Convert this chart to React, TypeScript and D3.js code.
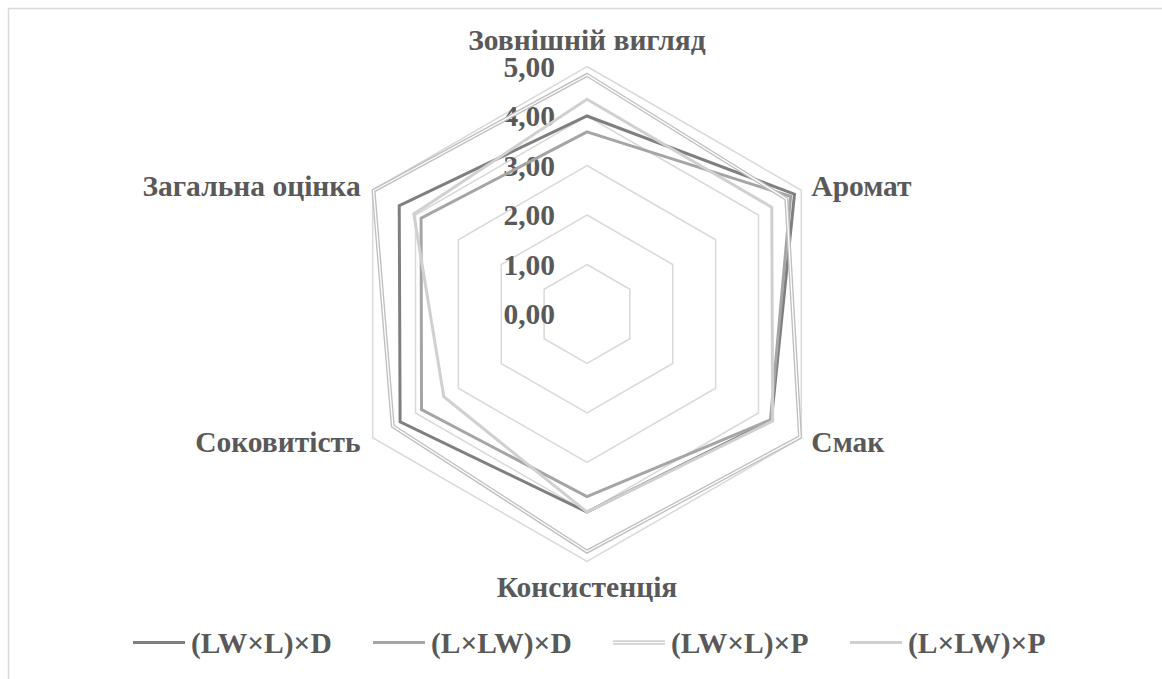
import React from "react";
import * as d3 from "d3";

const categories = ["Зовнішній вигляд", "Аромат", "Смак", "Консистенція", "Соковитість", "Загальна оцінка"];
const seriesNames = ["(LW×L)×D", "(L×LW)×D", "(LW×L)×P", "(L×LW)×P"];
const valsLWxL_D = [4.0, 4.84, 4.3, 4.0, 4.36, 4.38];
const valsLxLW_D = [3.68, 4.75, 4.28, 3.69, 3.86, 3.87];
const valsLWxL_P = [4.83, 4.65, 4.97, 4.8, 4.53, 4.98];
const valsLxLW_P = [4.34, 4.31, 4.33, 4.0, 3.34, 4.04];
const tickValues = [0, 1, 2, 3, 4, 5];
const tickLabels = ["0,00", "1,00", "2,00", "3,00", "4,00", "5,00"];

const W = 1162;
const H = 679;
const cx = 587;
const cy = 314;
const R = 247.5;
const TEXT = "#595959";
const FONT = "Liberation Serif";
const FS = 29.5;

type Style = { color: string; width: number; double?: boolean };
const styles: Style[] = [
  { color: "#7f7f7f", width: 3 },
  { color: "#a5a5a5", width: 3 },
  { color: "#bfbfbf", width: 4, double: true },
  { color: "#d0d0d0", width: 3 },
];

export default function App() {
  const r = d3.scaleLinear().domain([0, 5]).range([0, R]);
  const angle = d3
    .scalePoint<string>()
    .domain(categories)
    .range([0, 2 * Math.PI * (1 - 1 / categories.length)]);
  const pt = (cat: string, v: number): [number, number] => {
    const a = angle(cat) as number;
    return [cx + Math.sin(a) * r(v), cy - Math.cos(a) * r(v)];
  };
  const line = d3.line<[number, number]>().curve(d3.curveLinearClosed);
  const allSeries = [valsLWxL_D, valsLxLW_D, valsLWxL_P, valsLxLW_P];

  const legendX = [133, 373, 613, 850];
  const legendY = 642.5;

  return (
    <svg
      width={W}
      height={H}
      style={{ position: "absolute", left: 0, top: 0, background: "#fff" }}
    >
      <rect x={8.5} y={8.5} width={2000} height={2000} fill="#fff" stroke="#d9d9d9" strokeWidth={1.5} />
      {tickValues.slice(1).map((t) => (
        <path
          key={"g" + t}
          d={line(categories.map((c) => pt(c, t))) || ""}
          fill="none"
          stroke="#d9d9d9"
          strokeWidth={1.5}
        />
      ))}
      {tickValues.map((t, i) => (
        <text
          key={"t" + t}
          x={cx - 32}
          y={cy - r(t)}
          dy="0.34em"
          textAnchor="end"
          fontFamily={FONT}
          fontWeight="bold"
          fontSize={FS}
          fill={TEXT}
        >
          {tickLabels[i]}
        </text>
      ))}
      {allSeries.map((vals, si) => {
        const d = line(categories.map((c, i) => pt(c, vals[i]))) || "";
        const s = styles[si];
        return (
          <g key={"s" + si}>
            <path d={d} fill="none" stroke={s.color} strokeWidth={s.width} strokeLinejoin="miter" />
            {s.double && <path d={d} fill="none" stroke="#fff" strokeWidth={1.3} strokeLinejoin="miter" />}
          </g>
        );
      })}
      {categories.map((c) => {
        const a = angle(c) as number;
        const [vx, vy] = pt(c, 5);
        const sx = Math.sin(a);
        const uy = -Math.cos(a);
        let x = vx;
        let y = vy;
        let anchor: "start" | "middle" | "end" = "middle";
        let dy = "0";
        if (Math.abs(sx) < 0.01) {
          y = uy < 0 ? vy - 17 : vy + 35;
        } else {
          anchor = sx > 0 ? "start" : "end";
          x = vx + (sx > 0 ? 10 : -12);
          y = vy + uy * 8;
          dy = "0.34em";
        }
        return (
          <text
            key={"c" + c}
            x={x}
            y={y}
            dy={dy}
            textAnchor={anchor}
            fontFamily={FONT}
            fontWeight="bold"
            fontSize={FS}
            fill={TEXT}
          >
            {c}
          </text>
        );
      })}
      {seriesNames.map((n, i) => {
        const s = styles[i];
        const x0 = legendX[i];
        return (
          <g key={"l" + i}>
            <line x1={x0} x2={x0 + 52} y1={legendY} y2={legendY} stroke={s.color} strokeWidth={s.width} />
            {s.double && <line x1={x0} x2={x0 + 52} y1={legendY} y2={legendY} stroke="#fff" strokeWidth={1.3} />}
            <text
              x={x0 + 58}
              y={legendY}
              dy="0.34em"
              fontFamily={FONT}
              fontWeight="bold"
              fontSize={FS}
              fill={TEXT}
            >
              {n}
            </text>
          </g>
        );
      })}
    </svg>
  );
}
